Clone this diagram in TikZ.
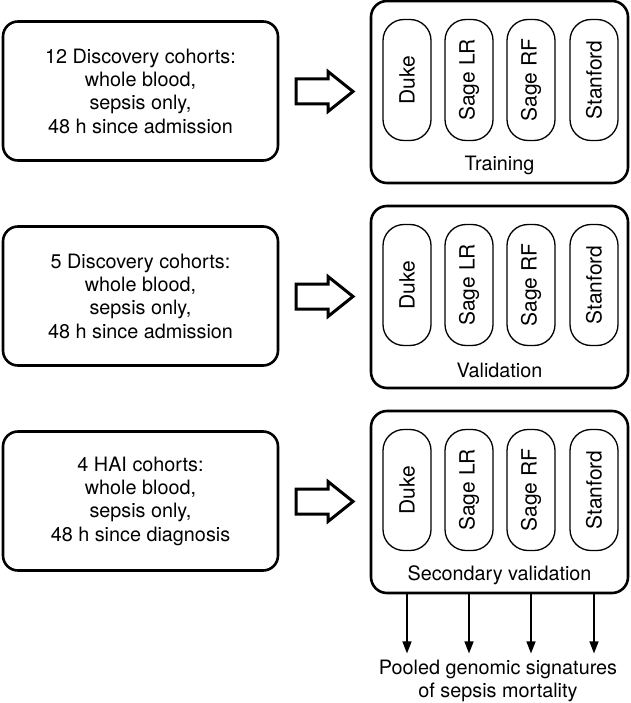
\documentclass[tikz,border=0pt]{standalone}
\usepackage{fontspec}
\setmainfont{TeX Gyre Heros}
\usepackage{tikz}
\usetikzlibrary{calc}
\usetikzlibrary{positioning}
\usetikzlibrary{arrows.meta}

\begin{document}
\begin{tikzpicture}[x=1pt,y=-1pt,
    every node/.style={font=\fontsize{19.8}{23.3}\selectfont},
    cohort/.style={draw,line width=2.6pt,rounded corners=15pt,align=center,
        minimum width=275pt,minimum height=139pt,inner sep=0pt},
    model/.style={draw,line width=2.6pt,rounded corners=16pt,
        minimum width=257pt,minimum height=182pt,inner sep=0pt},
    pill/.style={draw,line width=1.3pt,rounded corners=21pt,rotate=90,
        minimum width=121pt,minimum height=48pt,inner sep=0pt,
        font=\fontsize{21}{24}\selectfont},
    bigarrow/.style={draw,line width=3pt,line join=miter},
    outarrow/.style={line width=1.4pt,-{Triangle[length=12pt,width=9pt]}}]
    \useasboundingbox (0,0) rectangle (630,703);
    \foreach \r/\y/\lab/\txt in {1/0/Training/{12 Discovery cohorts:\\whole blood,\\sepsis only,\\48 h since admission},
        2/205/Validation/{5 Discovery cohorts:\\whole blood,\\sepsis only,\\48 h since admission},
        3/410/Secondary validation/{4 HAI cohorts:\\whole blood,\\sepsis only,\\48 h since diagnosis}} {
        \node[cohort] (left\r) at (140.5,91+\y) {\txt};
        \node[model] (right\r) at (499.5,92+\y) {};
        \node (lab\r) at (499.5,165+\y) {\lab};
        \foreach \n/\px/\ptxt in {duke/407/Duke, lr/469/Sage LR, rf/531/Sage RF, stan/594/Stanford}
            \node[pill] (\n\r) at (\px,80+\y) {\ptxt};
        % hollow block arrow between the two boxes
        \coordinate (arr\r) at ($(left\r.east)!.5!(right\r.west)$);
        \draw[bigarrow,shift={(arr\r)}] (-28.5,-12.5) -- (3.5,-12.5) -- (3.5,-20) -- (28.5,0)
            -- (3.5,20) -- (3.5,12.5) -- (-28.5,12.5) -- cycle;
    }
    % pooled output
    \node[align=center] (pooled) at (498,681) {Pooled genomic signatures\\of sepsis mortality};
    \foreach \n in {duke,lr,rf,stan}
        \draw[outarrow] (\n3.center |- right3.south) -- ($(\n3.center |- pooled.north)+(0,-3)$);
\end{tikzpicture}
\end{document}
